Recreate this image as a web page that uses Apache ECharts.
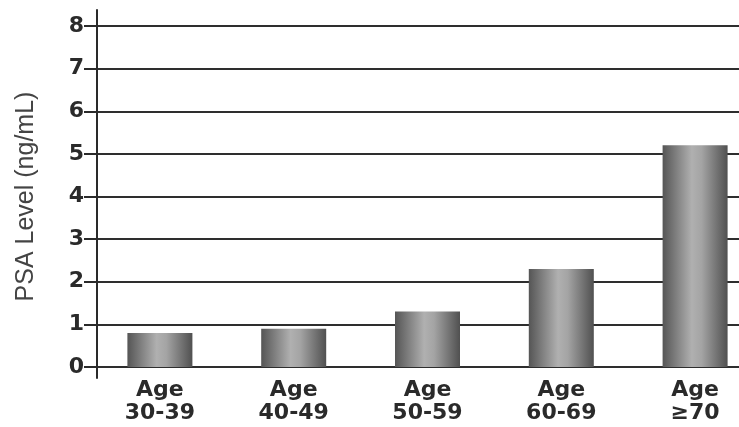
<!DOCTYPE html>
<html>
<head>
<meta charset="utf-8">
<script src="https://cdn.jsdelivr.net/npm/echarts@6/dist/echarts.min.js"></script>
<style>html,body{margin:0;padding:0;background:#fff}#c{width:739px;height:427px}</style>
</head>
<body>
<div id="c"></div>
<script>
var categories = ['Age\n30-39', 'Age\n40-49', 'Age\n50-59', 'Age\n60-69', 'Age\n\u226570'];
var psaValues = [0.8, 0.9, 1.3, 2.3, 5.2];
var yTicks = [0, 1, 2, 3, 4, 5, 6, 7, 8];

var chart = echarts.init(document.getElementById('c'));
var barFill = new echarts.graphic.LinearGradient(0, 0, 1, 0, [
  {offset: 0, color: '#555555'},
  {offset: 0.45, color: '#b0b0b0'},
  {offset: 0.6, color: '#a4a4a4'},
  {offset: 1, color: '#505050'}
]);
var font = 'Liberation Sans, Arial, sans-serif';
var boldFont = 'DejaVu Sans, Liberation Sans, sans-serif';
chart.setOption({
  animation: false,
  backgroundColor: '#ffffff',
  grid: [
    {left: 97, right: 0, top: 26, bottom: 60, outerBoundsMode: 'none'},
    {left: 93, width: 669, top: 26, bottom: 60, outerBoundsMode: 'none'},
    {left: 97, width: 1, top: 10, bottom: 49, outerBoundsMode: 'none'}
  ],
  xAxis: [
    {type: 'category', gridIndex: 0, data: categories, show: false},
    {
      type: 'category', gridIndex: 1, data: categories,
      axisLine: {show: false}, axisTick: {show: false},
      axisLabel: {
        color: '#2a2a2a', fontFamily: boldFont,
        fontWeight: 'bold', fontSize: 22, lineHeight: 23, margin: 12
      }
    },
    {type: 'value', gridIndex: 2, show: false}
  ],
  yAxis: [
    {
      type: 'value', gridIndex: 0, min: 0, max: 8, interval: 1,
      name: 'PSA Level (ng/mL)', nameLocation: 'middle', nameGap: 58,
      nameTextStyle: {color: '#444444', fontSize: 25, fontFamily: font},
      axisLine: {show: false},
      axisTick: {show: true, length: 13, lineStyle: {color: '#2a2a2a', width: 2}},
      axisLabel: {
        color: '#2a2a2a', fontFamily: boldFont,
        fontWeight: 'bold', fontSize: 22, margin: 13,
        formatter: function (v) { return yTicks.indexOf(v) >= 0 ? String(v) : ''; }
      },
      splitLine: {show: true, lineStyle: {color: '#2e2e2e', width: 2}}
    },
    {type: 'value', gridIndex: 1, min: 0, max: 8, interval: 1, show: false},
    {
      type: 'value', gridIndex: 2, min: 0, max: 1, position: 'left',
      axisLine: {show: true, lineStyle: {color: '#2a2a2a', width: 2}},
      axisTick: {show: false}, axisLabel: {show: false}, splitLine: {show: false}
    }
  ],
  series: [{
    type: 'bar', xAxisIndex: 1, yAxisIndex: 1,
    data: psaValues, barWidth: 65,
    itemStyle: {color: barFill}
  }]
});
</script>
</body>
</html>
